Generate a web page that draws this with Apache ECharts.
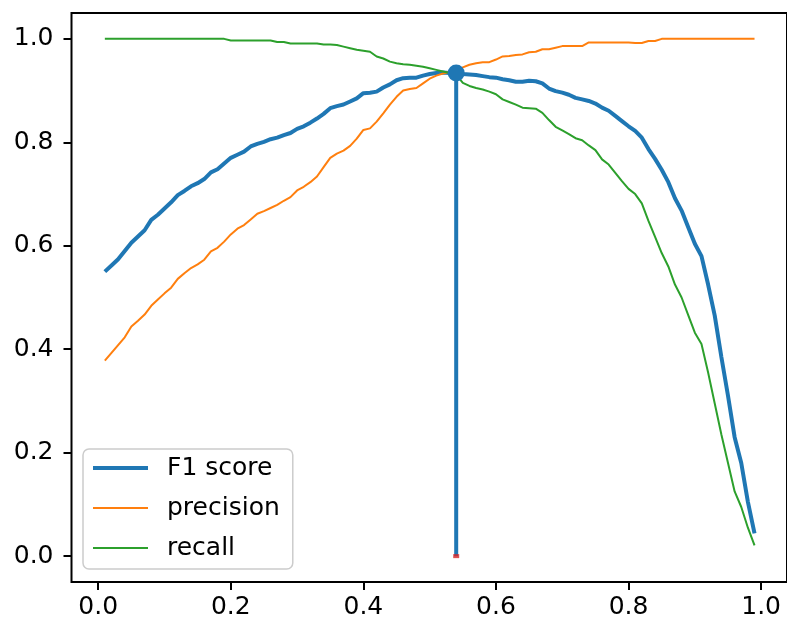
<!DOCTYPE html>
<html>
<head>
<meta charset="utf-8">
<script src="https://cdn.jsdelivr.net/npm/echarts@6/dist/echarts.min.js"></script>
<style>
html,body{margin:0;padding:0;background:#fff;}
#chart{width:787px;height:624px;}
</style>
</head>
<body>
<div id="chart"></div>
<script>
const thresholds = [
0.01,0.02,0.03,0.04,0.05,0.06,0.07,0.08,0.09,0.10,
0.11,0.12,0.13,0.14,0.15,0.16,0.17,0.18,0.19,0.20,
0.21,0.22,0.23,0.24,0.25,0.26,0.27,0.28,0.29,0.30,
0.31,0.32,0.33,0.34,0.35,0.36,0.37,0.38,0.39,0.40,
0.41,0.42,0.43,0.44,0.45,0.46,0.47,0.48,0.49,0.50,
0.51,0.52,0.53,0.54,0.55,0.56,0.57,0.58,0.59,0.60,
0.61,0.62,0.63,0.64,0.65,0.66,0.67,0.68,0.69,0.70,
0.71,0.72,0.73,0.74,0.75,0.76,0.77,0.78,0.79,0.80,
0.81,0.82,0.83,0.84,0.85,0.86,0.87,0.88,0.89,0.90,
0.91,0.92,0.93,0.94,0.95,0.96,0.97,0.98,0.99
];
const f1Score = [
0.550,0.562,0.574,0.590,0.606,0.618,0.630,0.650,0.660,0.672,
0.684,0.698,0.706,0.715,0.721,0.729,0.742,0.748,0.759,0.770,
0.776,0.782,0.792,0.797,0.801,0.806,0.809,0.814,0.818,0.826,
0.831,0.838,0.846,0.855,0.866,0.870,0.873,0.879,0.885,0.895,
0.896,0.898,0.906,0.912,0.920,0.924,0.925,0.925,0.929,0.932,
0.934,0.935,0.934,0.934,0.932,0.931,0.930,0.928,0.926,0.925,
0.922,0.920,0.917,0.917,0.919,0.918,0.914,0.904,0.899,0.896,
0.892,0.886,0.883,0.880,0.875,0.867,0.861,0.851,0.841,0.831,
0.822,0.809,0.787,0.768,0.747,0.723,0.692,0.668,0.636,0.604,
0.580,0.525,0.465,0.385,0.310,0.230,0.180,0.105,0.044
];
const precision = [
0.378,0.393,0.408,0.423,0.444,0.455,0.467,0.484,0.496,0.508,
0.519,0.536,0.547,0.557,0.564,0.573,0.589,0.596,0.608,0.622,
0.633,0.640,0.651,0.662,0.667,0.673,0.679,0.687,0.694,0.707,
0.714,0.723,0.734,0.752,0.770,0.778,0.784,0.793,0.807,0.824,
0.827,0.840,0.856,0.873,0.888,0.900,0.903,0.905,0.914,0.923,
0.929,0.933,0.936,0.937,0.945,0.950,0.953,0.955,0.955,0.960,
0.966,0.967,0.969,0.970,0.974,0.975,0.980,0.980,0.983,0.986,
0.986,0.986,0.986,0.993,0.993,0.993,0.993,0.993,0.993,0.993,
0.992,0.992,0.996,0.996,1.000,1.000,1.000,1.000,1.000,1.000,
1.000,1.000,1.000,1.000,1.000,1.000,1.000,1.000,1.000
];
const recall = [
1.000,1.000,1.000,1.000,1.000,1.000,1.000,1.000,1.000,1.000,
1.000,1.000,1.000,1.000,1.000,1.000,1.000,1.000,1.000,0.997,
0.997,0.997,0.997,0.997,0.997,0.997,0.994,0.994,0.991,0.991,
0.991,0.991,0.991,0.989,0.989,0.988,0.985,0.982,0.979,0.977,
0.975,0.966,0.962,0.956,0.953,0.951,0.950,0.948,0.946,0.943,
0.940,0.937,0.934,0.931,0.915,0.909,0.905,0.902,0.898,0.893,
0.883,0.878,0.873,0.867,0.866,0.865,0.857,0.843,0.830,0.823,
0.816,0.808,0.804,0.794,0.785,0.767,0.757,0.741,0.725,0.710,
0.700,0.682,0.648,0.617,0.586,0.560,0.525,0.500,0.466,0.432,
0.410,0.355,0.295,0.235,0.180,0.125,0.095,0.055,0.021
];
const bestThreshold = 0.54;
const bestF1 = 0.934;
const xTicks = [0.0,0.2,0.4,0.6,0.8,1.0];
const yTicks = [0.0,0.2,0.4,0.6,0.8,1.0];
const seriesNames = ['F1 score','precision','recall'];

const C_BLUE = '#1f77b4', C_ORANGE = '#ff7f0e', C_GREEN = '#2ca02c', C_RED = '#d62728';
const FONT = 'DejaVu Sans';
const pairs = arr => thresholds.map((t,i)=>[t,arr[i]]);

const chart = echarts.init(document.getElementById('chart'), null, {renderer:'canvas'});
chart.setOption({
  animation:false,
  backgroundColor:'#fff',
  grid:{left:71.5,right:-2.3,top:13,bottom:42,show:true,borderColor:'#000',borderWidth:2,backgroundColor:'transparent'},
  xAxis:{
    type:'value',min:-0.0403,max:1.039,
    axisLine:{show:false,onZero:false},splitLine:{show:false},
    axisTick:{show:true,inside:false,length:8,lineStyle:{color:'#000',width:2},customValues:xTicks},
    axisLabel:{customValues:xTicks,margin:13,color:'#000',fontFamily:FONT,fontSize:25,formatter:v=>v.toFixed(1)}
  },
  yAxis:{
    type:'value',min:-0.05,max:1.05,
    axisLine:{show:false,onZero:false},splitLine:{show:false},
    axisTick:{show:true,inside:false,length:8,lineStyle:{color:'#000',width:2},customValues:yTicks},
    axisLabel:{customValues:yTicks,margin:18,color:'#000',fontFamily:FONT,fontSize:25,formatter:v=>v.toFixed(1)}
  },
  legend:{
    data:[
      {name:seriesNames[0],icon:'path://M0,0H55V4H0Z',itemStyle:{color:C_BLUE}},
      {name:seriesNames[1],icon:'path://M0,0H55V2H0Z',itemStyle:{color:C_ORANGE}},
      {name:seriesNames[2],icon:'path://M0,0H55V2H0Z',itemStyle:{color:C_GREEN}}
    ],
    orient:'vertical',left:83,top:449,
    padding:[5,13,7,10],
    itemWidth:55,itemHeight:28,itemGap:12,
    backgroundColor:'#fff',borderColor:'#cccccc',borderWidth:1.5,borderRadius:6,
    textStyle:{fontFamily:FONT,fontSize:25,color:'#000',lineHeight:28,padding:[0,0,0,14]}
  },
  series:[
    {name:'F1 score',type:'line',data:pairs(f1Score),showSymbol:false,symbol:'none',
     lineStyle:{color:C_BLUE,width:4},itemStyle:{color:C_BLUE},z:2},
    {name:'precision',type:'line',data:pairs(precision),showSymbol:false,symbol:'none',
     lineStyle:{color:C_ORANGE,width:2},itemStyle:{color:C_ORANGE},z:2},
    {name:'recall',type:'line',data:pairs(recall),showSymbol:false,symbol:'none',
     lineStyle:{color:C_GREEN,width:2},itemStyle:{color:C_GREEN},z:2},
    {name:'stem',type:'line',data:[[bestThreshold,0],[bestThreshold,bestF1]],symbol:'none',
     lineStyle:{color:C_BLUE,width:4},z:3,silent:true},
    {name:'base',type:'scatter',data:[[bestThreshold,0]],symbol:'rect',symbolSize:[6,4],
     itemStyle:{color:C_RED},z:4,silent:true},
    {name:'best',type:'scatter',data:[[bestThreshold,bestF1]],symbol:'circle',symbolSize:17,
     itemStyle:{color:C_BLUE,opacity:1},z:5,silent:true}
  ]
});
</script>
</body>
</html>
